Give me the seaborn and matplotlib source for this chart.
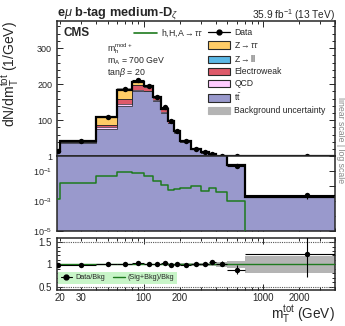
import numpy as np
import matplotlib
matplotlib.use('Agg')
import matplotlib.pyplot as plt
import seaborn as sns
from matplotlib.patches import Patch
from matplotlib.lines import Line2D
from matplotlib.ticker import FixedLocator, FuncFormatter, NullFormatter, MultipleLocator

# ---------------- data ----------------
bin_edges = [18, 20, 40, 60, 80, 100, 120, 140, 160, 180, 200, 250, 300, 350, 400, 500, 700, 4000]
ttbar = [12.5, 38, 77, 139, 181, 181, 154, 121, 93, 66, 40.5, 19.3, 10.6, 7.1, 2.1, 0.235, 0.0018]
qcd = [0.6, 1.5, 4, 7, 2, 1, 1, 0.8, 0.5, 0.3, 0.2, 0.1, 0.05, 0.03, 0.02, 0.004, 0.00003]
electroweak = [0.4, 1.0, 5, 12, 14, 10, 8, 9, 3.7, 2.2, 1.0, 0.5, 0.25, 0.2, 0.07, 0.01, 0.00007]
z_ll = [0.2, 0.3, 0.8, 0.8, 0.4, 0.2, 0.1, 0.1, 0.05, 0.05, 0.02, 0.01, 0.01, 0.005, 0.002, 0.0005, 0.00001]
z_tautau = [0.5, 1.5, 21, 26, 8.6, 1.8, 1.9, 1.1, 0.75, 0.45, 0.28, 0.09, 0.09, 0.065, 0.008, 0.0005, 0.00002]
data_obs = [14.0, 41.5, 108, 187, 212, 196, 165, 137, 97, 69, 41.6, 20.4, 11.2, 7.8, 2.24, 0.22, 0.00236]
data_rel_err = [0.03, 0.015, 0.015, 0.012, 0.012, 0.012, 0.013, 0.015, 0.018, 0.02, 0.02, 0.03, 0.04, 0.05, 0.06, 0.11, 0.42]
signal = [1.3e-3, 0.015, 0.049, 0.086, 0.077, 0.049, 0.022, 0.0117, 0.0054, 0.006, 0.0070, 0.010, 0.0049, 0.0077, 0.0038, 0.00105, 1e-9]
bkg_rel_unc = [0.03, 0.02, 0.02, 0.02, 0.02, 0.02, 0.02, 0.02, 0.02, 0.02, 0.025, 0.03, 0.03, 0.04, 0.06, 0.07, 0.18]

x_major_labels = {20: '20', 30: '30', 100: '100', 200: '200', 1000: '1000', 2000: '2000'}

# ---------------- style ----------------
sns.set_style('ticks')
plt.rcParams['font.family'] = ['Liberation Sans', 'DejaVu Sans']
plt.rcParams['mathtext.fontset'] = 'custom'
plt.rcParams['mathtext.rm'] = 'Liberation Sans'
plt.rcParams['mathtext.it'] = 'Liberation Sans:italic'
plt.rcParams['mathtext.bf'] = 'Liberation Sans:bold'

C_TT = '#9999CC'
C_QCD = '#FFCCFF'
C_EW = '#DE5A6A'
C_ZLL = '#5BB8E6'
C_ZTT = '#FFCC66'
C_UNC = '#B4B4B4'
C_SIG = '#1E7A1E'

W, H = 345, 326
fig = plt.figure(figsize=(W / 100, H / 100), dpi=100)


def rect(x0, y0, x1, y1):
    return [x0 / W, 1 - y1 / H, (x1 - x0) / W, (y1 - y0) / H]


ax_lin = fig.add_axes(rect(57, 21, 335, 156))
ax_log = fig.add_axes(rect(57, 156, 335, 231))
ax_r = fig.add_axes(rect(57, 238, 335, 290))

edges = np.array(bin_edges, dtype=float)
comps = [(np.array(ttbar), C_TT), (np.array(qcd), C_QCD), (np.array(electroweak), C_EW),
         (np.array(z_ll), C_ZLL), (np.array(z_tautau), C_ZTT)]
total = sum(c[0] for c in comps)
unc = np.array(bkg_rel_unc)
dat = np.array(data_obs)
derr = dat * np.array(data_rel_err)
centers = 0.5 * (edges[:-1] + edges[1:])
halfw = 0.5 * (edges[1:] - edges[:-1])
sig = np.array(signal)


def draw_main(ax, floor):
    base = np.full(len(total), floor)
    for vals, col in comps:
        top = base + vals
        ax.stairs(top, edges, baseline=base, fill=True, color=col, lw=0)
        ax.stairs(top, edges, baseline=None, color='#2a2a2a', lw=0.5)
        base = top
    ax.stairs(total * (1 + unc), edges, baseline=total * (1 - unc), fill=True,
              color='#555555', alpha=0.55, lw=0)
    ax.stairs(total, edges, baseline=None, color='black', lw=1.6)
    ax.errorbar(centers, dat, yerr=derr, xerr=halfw, fmt='none', ecolor='black',
                elinewidth=0.8, capsize=0, zorder=5)
    sns.scatterplot(x=centers, y=dat, ax=ax, color='black', s=15, edgecolor='black',
                    linewidth=0, zorder=6, legend=False)


draw_main(ax_lin, 0.0)
draw_main(ax_log, 1e-9)
sns.lineplot(x=edges, y=np.append(sig, sig[-1]), ax=ax_log, drawstyle='steps-post',
             color=C_SIG, lw=1.1, zorder=4, legend=False)

for ax in (ax_lin, ax_log, ax_r):
    ax.set_xscale('log')
    ax.set_xlim(18.8, 4000)
    ax.set_xlabel('')
    ax.set_ylabel('')
    for s in ax.spines.values():
        s.set_linewidth(1.1)
    ax.xaxis.set_major_locator(FixedLocator([100, 1000]))
    minors = [v * 10 ** k for k in (1, 2, 3) for v in range(2, 10)]
    ax.xaxis.set_minor_locator(FixedLocator(minors))
    ax.tick_params(which='both', direction='in', top=True, right=True, labelsize=6.5, width=0.7)
    ax.tick_params(which='major', length=4.5)
    ax.tick_params(which='minor', length=2.3)
    ax.xaxis.set_major_formatter(NullFormatter())
    ax.xaxis.set_minor_formatter(NullFormatter())

ax_lin.set_ylim(1, 375)
ax_lin.yaxis.set_major_locator(FixedLocator([100, 200, 300]))
ax_lin.yaxis.set_minor_locator(MultipleLocator(20))
ax_lin.tick_params(which='both', bottom=False)

ax_log.set_yscale('log')
ax_log.set_ylim(1e-5, 1)
ax_log.yaxis.set_major_locator(FixedLocator([1e-5, 1e-4, 1e-3, 1e-2, 1e-1, 1]))
ax_log.yaxis.set_minor_locator(FixedLocator([]))
ax_log.yaxis.set_major_formatter(FuncFormatter(
    lambda v, p: {1e-5: '$10^{-5}$', 1e-3: '$10^{-3}$', 1e-1: '$10^{-1}$', 1: '1'}.get(round(v, 8), '')))
ax_log.tick_params(which='both', top=False)

# ratio panel
ratio = dat / total
ratio_err = np.array(data_rel_err) * ratio
ratio_sig = (total + sig) / total
ax_r.stairs(1 + unc, edges, baseline=1 - unc, fill=True, color=C_UNC, lw=0)
ax_r.axhline(1.0, color='#2a2a2a', lw=0.6, zorder=1)
sns.lineplot(x=edges, y=np.append(ratio_sig, ratio_sig[-1]), ax=ax_r, drawstyle='steps-post',
             color=C_SIG, lw=1.0, zorder=3, legend=False)
for yv in (0.5, 1.5):
    ax_r.axhline(yv, color='#555555', lw=0.8, ls=(0, (1, 1)), zorder=2)
ax_r.errorbar(centers, ratio, yerr=ratio_err, xerr=halfw, fmt='none', ecolor='black',
              elinewidth=0.8, capsize=0, zorder=5)
sns.scatterplot(x=centers, y=ratio, ax=ax_r, color='black', s=15, linewidth=0, zorder=6, legend=False)
ax_r.set_ylim(0.43, 1.59)
ax_r.yaxis.set_major_locator(FixedLocator([0.5, 1, 1.5]))
ax_r.yaxis.set_major_formatter(FuncFormatter(lambda v, p: {0.5: '0.5', 1.0: '1', 1.5: '1.5'}.get(v, '')))
ax_r.yaxis.set_minor_locator(MultipleLocator(0.1))
lab = FuncFormatter(lambda v, p: x_major_labels.get(int(round(v)), ''))
ax_r.xaxis.set_major_formatter(lab)
ax_r.xaxis.set_minor_formatter(lab)
ax_r.tick_params(axis='x', which='both', labelsize=7, pad=2)
ax_r.tick_params(axis='y', labelsize=7)

# ratio legend
rleg = ax_r.legend(handles=[
    Line2D([], [], color='black', marker='o', ms=3.5, lw=0.8),
    Line2D([], [], color=C_SIG, lw=1.0)],
    labels=['Data/Bkg', '(Sig+Bkg)/Bkg'], ncol=2, fontsize=5.2, loc='lower left',
    bbox_to_anchor=(58 / W, 1 - 284 / H), bbox_transform=fig.transFigure,
    frameon=True, fancybox=False, handlelength=1.6, handletextpad=0.4, columnspacing=1.2,
    borderpad=0.35, borderaxespad=0)
rleg.get_frame().set_facecolor('#C8F5C8')
rleg.get_frame().set_edgecolor('none')
rleg.get_frame().set_alpha(1)

# main legend (right column)
handles = [
    Line2D([], [], color='black', marker='o', ms=3.5, lw=0.9),
    Patch(facecolor=C_ZTT, edgecolor='#2a2a2a', lw=0.8),
    Patch(facecolor=C_ZLL, edgecolor='#2a2a2a', lw=0.8),
    Patch(facecolor=C_EW, edgecolor='#2a2a2a', lw=0.8),
    Patch(facecolor=C_QCD, edgecolor='#2a2a2a', lw=0.8),
    Patch(facecolor=C_TT, edgecolor='#2a2a2a', lw=0.8),
    Patch(facecolor=C_UNC, edgecolor=C_UNC, lw=0.8),
]
labels = ['Data', r'Z$\rightarrow\tau\tau$', r'Z$\rightarrow$ll', 'Electroweak', 'QCD',
          r't$\bar{\rm t}$', 'Background uncertainty']
leg = ax_lin.legend(handles=handles, labels=labels, loc='upper left', fontsize=6.2,
                    bbox_to_anchor=(208 / W, 1 - 28 / H), bbox_transform=fig.transFigure,
                    frameon=False, handlelength=2.6, handleheight=0.95, handletextpad=0.45,
                    labelspacing=0.36, borderpad=0, borderaxespad=0)
leg2 = ax_lin.legend(handles=[Line2D([], [], color=C_SIG, lw=1.2)],
                     labels=[r'h,H,A$\rightarrow\tau\tau$'], loc='upper left', fontsize=6.3,
                     bbox_to_anchor=(134 / W, 1 - 28 / H), bbox_transform=fig.transFigure,
                     frameon=False, handlelength=2.6, handletextpad=0.45, borderpad=0, borderaxespad=0)
ax_lin.add_artist(leg)

fig.text(64 / W, 1 - 33 / H, 'CMS', fontsize=8.5, fontweight='bold', va='center', ha='left')
fig.text(107 / W, 1 - 49 / H, r'm$_{\rm h}^{\rm mod+}$', fontsize=6.3, va='center', ha='left')
fig.text(107 / W, 1 - 61 / H, r'm$_{\rm A}$ = 700 GeV', fontsize=6.3, va='center', ha='left')
fig.text(107 / W, 1 - 72 / H, r'tan$\beta$ = 20', fontsize=6.3, va='center', ha='left')

fig.text(57 / W, 1 - 13 / H, r'e$\mu$ b-tag medium-D$_{\zeta}$', fontsize=9.2, fontweight='bold',
         va='center', ha='left')
fig.text(335 / W, 1 - 15 / H, r'35.9 fb$^{-1}$ (13 TeV)', fontsize=7.3, va='center', ha='right')
fig.text(10 / W, 1 - 21 / H, r'dN/dm$_{\rm T}^{\rm tot}$ (1/GeV)', fontsize=10, rotation=90,
         va='top', ha='center')
fig.text(335 / W, 1 - 314 / H, r'm$_{\rm T}^{\rm tot}$ (GeV)', fontsize=9.8, va='center', ha='right')
fig.text(341 / W, 1 - 140 / H, 'linear scale | log scale', fontsize=6.3, rotation=-90,
         color='#888888', va='center', ha='center')

fig.savefig('out.png', dpi=100)
